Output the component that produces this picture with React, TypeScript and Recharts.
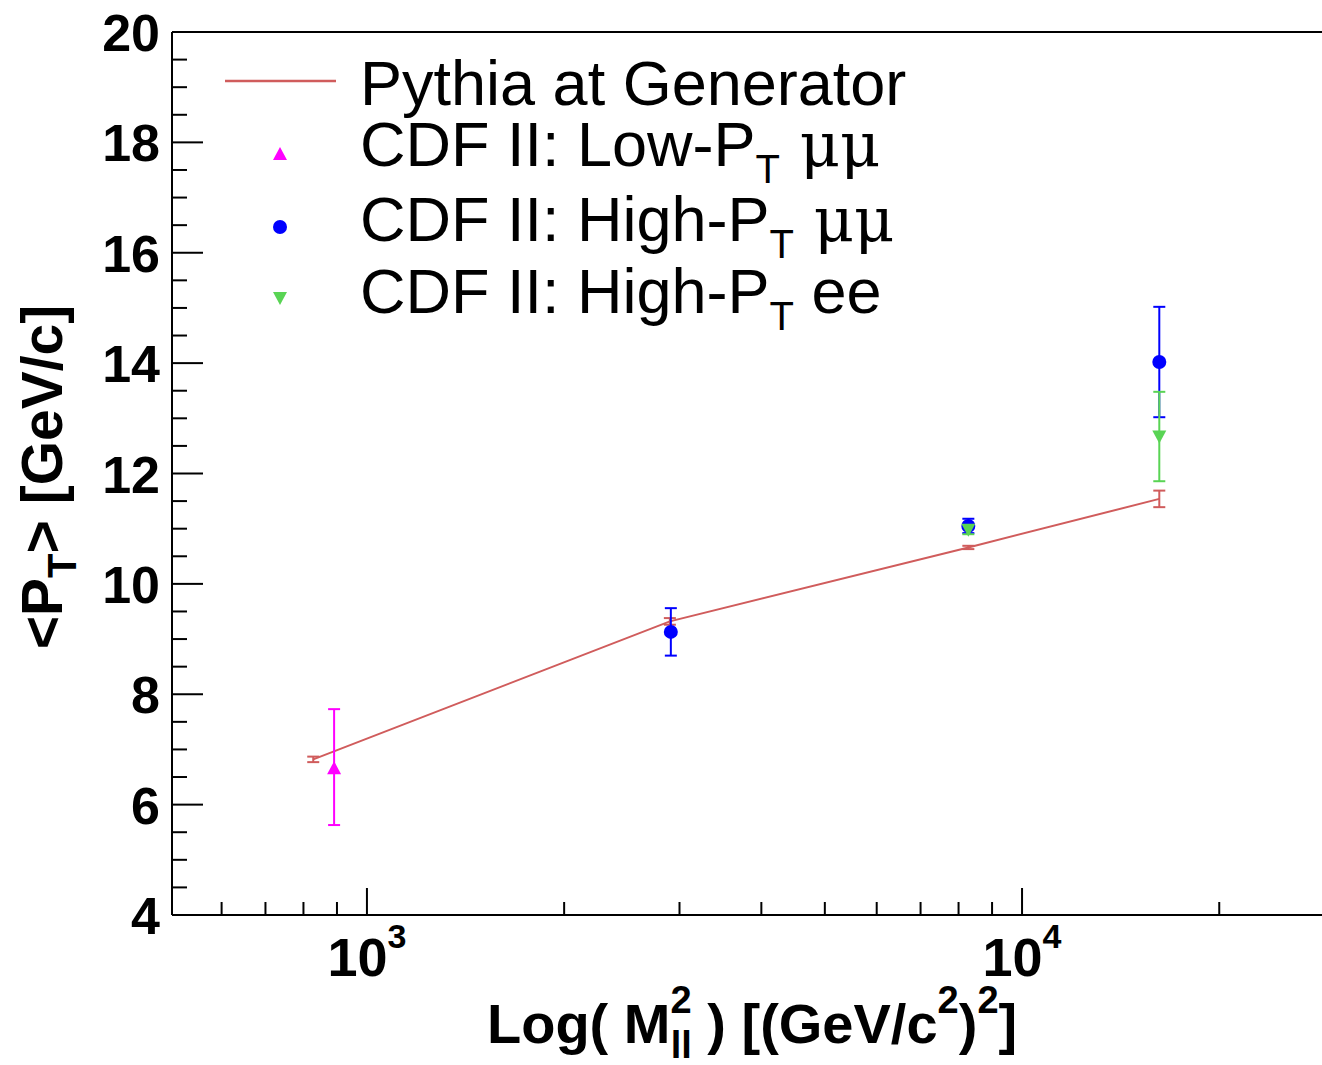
import React from 'react'
import { ComposedChart, Line, Scatter, XAxis, YAxis, ErrorBar, ReferenceLine, Legend } from 'recharts'

// mass^2 in (GeV/c^2)^2, <pT> in GeV/c
const PYTHIA_M = [828, 2900, 8280, 16200]
const PYTHIA_PT = [6.82, 9.32, 10.66, 11.54]
const PYTHIA_ERR = [0.05, 0.06, 0.03, 0.15]

const LOWMU_M = [891]
const LOWMU_PT = [6.66]
const LOWMU_ERR = [[1.03, 1.07]]

const HIGHMU_M = [2910, 8280, 16200]
const HIGHMU_PT = [9.13, 11.05, 14.02]
const HIGHMU_ERR = [0.43, 0.13, 1.0]

const HIGHEE_M = [8280, 16200]
const HIGHEE_PT = [10.98, 12.67]
const HIGHEE_ERR = [0.08, 0.81]

const X_TICKS = [600, 700, 800, 900, 1000, 2000, 3000, 4000, 5000, 6000, 7000, 8000, 9000, 10000, 20000]
const X_TICK_EXP: Record<number, string> = { 1000: '3', 10000: '4' }
const Y_TICKS = [4, 4.5, 5, 5.5, 6, 6.5, 7, 7.5, 8, 8.5, 9, 9.5, 10, 10.5, 11, 11.5, 12, 12.5, 13, 13.5, 14, 14.5, 15, 15.5, 16, 16.5, 17, 17.5, 18, 18.5, 19, 19.5, 20]
const Y_LABELS = [4, 6, 8, 10, 12, 14, 16, 18, 20]

const PYTHIA_COLOR = '#d05c5c'
const LOW_COLOR = '#ff00ff'
const HIGH_MU_COLOR = '#0000ff'
const EE_COLOR = '#59d454'
const FONT = '"Liberation Sans", Arial, Helvetica, sans-serif'

const zip = (m: number[], pt: number[], err: any[]) => m.map((v, i) => ({ m: v, pt: pt[i], err: err[i] }))

const pythia = zip(PYTHIA_M, PYTHIA_PT, PYTHIA_ERR)
const lowMu = zip(LOWMU_M, LOWMU_PT, LOWMU_ERR)
const highMu = zip(HIGHMU_M, HIGHMU_PT, HIGHMU_ERR)
const highEE = zip(HIGHEE_M, HIGHEE_PT, HIGHEE_ERR)

const TriUp = ({ cx, cy, fill }: any) => (
  <polygon points={`${cx - 7},${cy + 6} ${cx + 7},${cy + 6} ${cx},${cy - 7}`} fill={fill} />
)
const TriDown = ({ cx, cy, fill }: any) => (
  <polygon points={`${cx - 7},${cy - 6} ${cx + 7},${cy - 6} ${cx},${cy + 7}`} fill={fill} />
)
const Dot = ({ cx, cy, fill }: any) => <circle cx={cx} cy={cy} r={7} fill={fill} />

function XTick({ x, y, payload }: any) {
  const v = payload.value
  const exp = X_TICK_EXP[v]
  return (
    <g>
      <line x1={x} x2={x} y1={y} y2={y - (exp ? 27 : 13)} stroke="#000" strokeWidth={2} />
      {exp && (
        <text x={x} y={y + 61} textAnchor="middle" fontFamily={FONT} fontWeight="bold" fontSize={54} fill="#000">
          10<tspan dy={-28} fontSize={34}>{exp}</tspan>
        </text>
      )}
    </g>
  )
}

function YTick({ x, y, payload }: any) {
  const v = payload.value
  const major = Y_LABELS.includes(v)
  return (
    <g>
      <line x1={x} x2={x + (major ? 31 : 15)} y1={y} y2={y} stroke="#000" strokeWidth={2} />
      {major && (
        <text x={x - 12} y={y + 19} textAnchor="end" fontFamily={FONT} fontWeight="bold" fontSize={52} fill="#000">
          {v}
        </text>
      )}
    </g>
  )
}

function XLabel() {
  return (
    <text x={487} y={1043} fontFamily={FONT} fontWeight="bold" fontSize={56} fill="#000">
      Log( M
      <tspan dy={-30} fontSize={38}>2</tspan>
      <tspan dx={-21} dy={45} fontSize={38}>ll</tspan>
      <tspan dy={-15} fontSize={56}> ) [(GeV/c</tspan>
      <tspan dy={-30} fontSize={38}>2</tspan>
      <tspan dy={30} fontSize={56}>)</tspan>
      <tspan dy={-30} fontSize={38}>2</tspan>
      <tspan dy={30} fontSize={56}>]</tspan>
    </text>
  )
}

function YLabel() {
  return (
    <text x={62} y={477} transform="rotate(-90, 62, 477)" textAnchor="middle" fontFamily={FONT} fontWeight="bold" fontSize={57} fill="#000">
      {'<P'}
      <tspan dy={14} fontSize={40}>T</tspan>
      <tspan dy={-14} fontSize={57}>{'> [GeV/c]'}</tspan>
    </text>
  )
}

function LegendBox() {
  const ts = { fontFamily: FONT, fontSize: 63, fill: '#000' }
  const mu = { fontFamily: '"DejaVu Serif", "Liberation Serif", serif', fontSize: 62 }
  return (
    <svg width={1322} height={340} style={{ display: 'block' }}>
      <line x1={225} x2={336} y1={81} y2={81} stroke={PYTHIA_COLOR} strokeWidth={2.5} />
      <text x={360} y={105} {...ts}>Pythia at Generator</text>
      <TriUp cx={280} cy={154} fill={LOW_COLOR} />
      <text x={360} y={166} {...ts}>
        CDF II: Low-P<tspan dy={17} fontSize={40}>T</tspan>
        <tspan dy={-17} {...mu}> μμ</tspan>
      </text>
      <Dot cx={280} cy={227} fill={HIGH_MU_COLOR} />
      <text x={360} y={241} {...ts}>
        CDF II: High-P<tspan dy={17} fontSize={40}>T</tspan>
        <tspan dy={-17} {...mu}> μμ</tspan>
      </text>
      <TriDown cx={280} cy={298} fill={EE_COLOR} />
      <text x={360} y={313} {...ts}>
        CDF II: High-P<tspan dy={17} fontSize={40}>T</tspan>
        <tspan dy={-17}> ee</tspan>
      </text>
    </svg>
  )
}

export default function App() {
  return (
    <div style={{ position: 'absolute', left: 0, top: 0, background: '#fff' }}>
      <ComposedChart width={1322} height={1065} margin={{ top: 32, right: 0, bottom: 0, left: 0 }}>
        <XAxis
          dataKey="m"
          type="number"
          scale="log"
          domain={[504, 28700]}
          allowDataOverflow
          ticks={X_TICKS}
          interval={0}
          tickSize={0}
          tickMargin={0}
          tick={<XTick />}
          height={150}
          axisLine={{ stroke: '#000', strokeWidth: 2 }}
          label={<XLabel />}
        />
        <YAxis
          dataKey="pt"
          type="number"
          domain={[4, 20]}
          allowDataOverflow
          ticks={Y_TICKS}
          interval={0}
          tickSize={0}
          tickMargin={0}
          tick={<YTick />}
          width={172}
          axisLine={{ stroke: '#000', strokeWidth: 2 }}
          label={<YLabel />}
        />
        <ReferenceLine y={20} stroke="#000" strokeWidth={2} />
        <Legend
          layout="vertical"
          align="center"
          verticalAlign="middle"
          wrapperStyle={{ left: 0, top: 0, width: 1322, height: 340 }}
          content={() => <LegendBox />}
        />
        <Line
          data={pythia}
          dataKey="pt"
          stroke={PYTHIA_COLOR}
          strokeWidth={2}
          dot={false}
          isAnimationActive={false}
        >
          <ErrorBar dataKey="err" direction="y" width={6} stroke={PYTHIA_COLOR} strokeWidth={2} />
        </Line>
        <Scatter data={lowMu} dataKey="pt" fill={LOW_COLOR} shape={<TriUp />} isAnimationActive={false}>
          <ErrorBar dataKey="err" direction="y" width={6} stroke={LOW_COLOR} strokeWidth={2} />
        </Scatter>
        <Scatter data={highMu} dataKey="pt" fill={HIGH_MU_COLOR} shape={<Dot />} isAnimationActive={false}>
          <ErrorBar dataKey="err" direction="y" width={6} stroke={HIGH_MU_COLOR} strokeWidth={2} />
        </Scatter>
        <Scatter data={highEE} dataKey="pt" fill={EE_COLOR} shape={<TriDown />} isAnimationActive={false}>
          <ErrorBar dataKey="err" direction="y" width={6} stroke={EE_COLOR} strokeWidth={2} />
        </Scatter>
      </ComposedChart>
    </div>
  )
}
